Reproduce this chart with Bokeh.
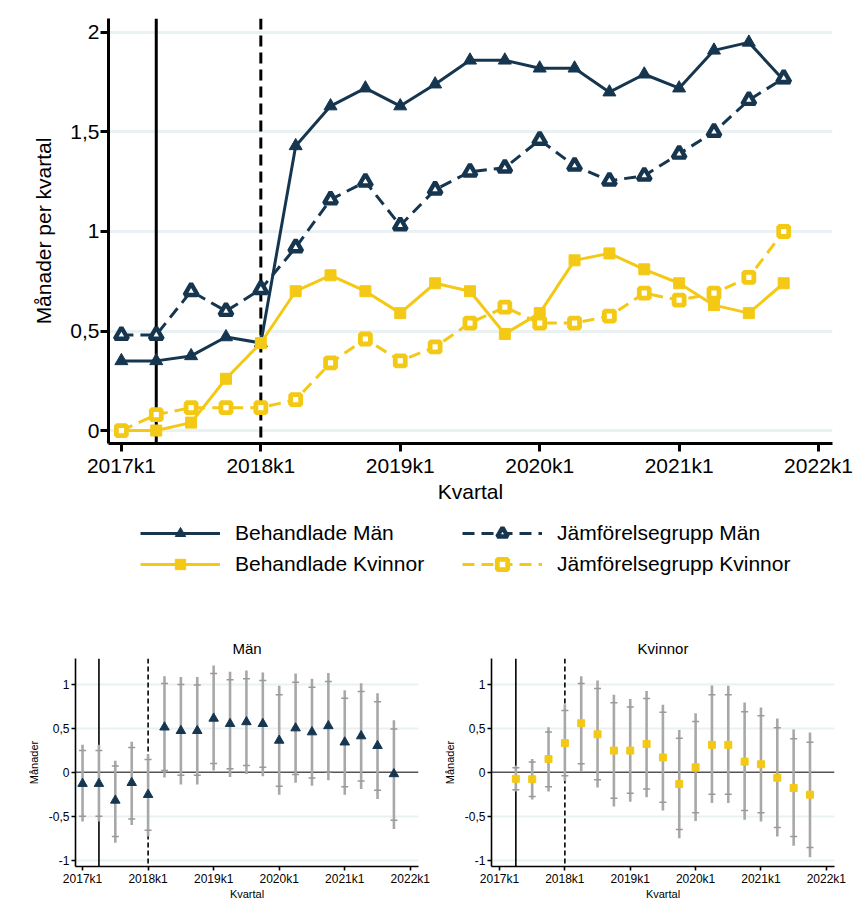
from bokeh.plotting import figure
from bokeh.models import FixedTicker, Legend, LegendItem, Span, Range1d
from bokeh.layouts import column, row
from bokeh.embed import file_html
from bokeh.resources import INLINE

# ---------------- data ----------------
quarters = list(range(20))  # 0 = 2017k1 ... 19 = 2021k4
tick_positions = [0, 4, 8, 12, 16, 20]
tick_labels = ["2017k1", "2018k1", "2019k1", "2020k1", "2021k1", "2022k1"]

main_y_ticks = [0, 0.5, 1, 1.5, 2]
main_y_labels = ["0", "0,5", "1", "1,5", "2"]

panel_y_ticks = [-1, -0.5, 0, 0.5, 1]
panel_y_labels = ["-1", "-0,5", "0", "0,5", "1"]

series_names = ["Behandlade Män", "Jämförelsegrupp Män",
                "Behandlade Kvinnor", "Jämförelsegrupp Kvinnor"]

behandlade_man = [0.35, 0.35, 0.375, 0.47, 0.44, 1.43, 1.63, 1.72, 1.63, 1.74,
                  1.86, 1.86, 1.82, 1.82, 1.70, 1.79, 1.72, 1.91, 1.95, 1.76]
jamfor_man = [0.48, 0.48, 0.70, 0.60, 0.71, 0.92, 1.16, 1.25, 1.03, 1.21,
              1.30, 1.32, 1.46, 1.33, 1.255, 1.28, 1.39, 1.50, 1.66, 1.77]
behandlade_kvinnor = [0.0, 0.0, 0.04, 0.26, 0.44, 0.70, 0.78, 0.70, 0.59, 0.74,
                      0.70, 0.485, 0.59, 0.855, 0.89, 0.81, 0.74, 0.63, 0.59, 0.74]
jamfor_kvinnor = [0.0, 0.08, 0.115, 0.115, 0.115, 0.155, 0.34, 0.46, 0.35, 0.42,
                  0.54, 0.62, 0.54, 0.54, 0.575, 0.69, 0.655, 0.69, 0.77, 1.00]

# event-study estimates, men (2017k1 .. 2021k4)
men_est = [-0.13, -0.13, -0.32, -0.12, -0.255, 0.51, 0.47, 0.47, 0.61, 0.55,
           0.57, 0.55, 0.36, 0.50, 0.455, 0.525, 0.34, 0.41, 0.30, -0.02]
men_hi_tick = [0.245, 0.245, 0.07, 0.28, 0.145, 1.005, 0.995, 0.99, 1.12, 1.05,
               1.06, 1.04, 0.88, 1.02, 0.965, 1.03, 0.84, 0.915, 0.80, 0.49]
men_lo_tick = [-0.50, -0.50, -0.73, -0.53, -0.66, 0.02, -0.035, -0.035, 0.10, 0.04,
               0.075, 0.055, -0.16, -0.025, -0.065, 0.005, -0.165, -0.10, -0.205, -0.545]
men_hi_line = [0.31, 0.31, 0.13, 0.345, 0.20, 1.09, 1.08, 1.08, 1.21, 1.14,
               1.155, 1.13, 0.98, 1.12, 1.06, 1.125, 0.93, 1.01, 0.895, 0.59]
men_lo_line = [-0.56, -0.56, -0.80, -0.60, -0.73, -0.06, -0.14, -0.14, 0.02, -0.055,
               -0.02, -0.045, -0.255, -0.12, -0.155, -0.09, -0.255, -0.19, -0.305, -0.645]

# event-study estimates, women (2017k2 .. 2021k4)
women_quarters = quarters[1:]
women_est = [-0.075, -0.08, 0.15, 0.33, 0.555, 0.43, 0.245, 0.245, 0.32, 0.167,
             -0.135, 0.055, 0.31, 0.31, 0.12, 0.09, -0.063, -0.18, -0.255]
women_hi_tick = [0.05, 0.115, 0.455, 0.70, 1.005, 0.95, 0.787, 0.74, 0.835, 0.68,
                 0.385, 0.575, 0.88, 0.88, 0.685, 0.64, 0.505, 0.38, 0.34]
women_lo_tick = [-0.20, -0.275, -0.165, -0.04, 0.097, -0.085, -0.295, -0.24, -0.19, -0.34,
                 -0.65, -0.46, -0.25, -0.25, -0.435, -0.46, -0.627, -0.73, -0.855]
women_hi_line = [0.075, 0.15, 0.51, 0.77, 1.09, 1.04, 0.88, 0.83, 0.92, 0.765,
                 0.48, 0.67, 0.985, 0.98, 0.79, 0.735, 0.61, 0.485, 0.45]
women_lo_line = [-0.22, -0.31, -0.22, -0.10, 0.01, -0.175, -0.39, -0.335, -0.285, -0.435,
                 -0.75, -0.555, -0.35, -0.35, -0.54, -0.56, -0.73, -0.835, -0.965]

reform_quarter = 1      # solid line 2017k2
start_quarter = 4       # dashed line 2018k1

# ---------------- style ----------------
NAVY = "#163650"
YELLOW = "#f3c916"
GRAY = "#a8a8a8"
GRAY_TICK = "#9a9a9a"
GRID = "#e9f1f3"
FONT = "Liberation Sans"

STYLES = [
    dict(line=dict(line_color=NAVY, line_width=3),
         mark=dict(marker="triangle", size=13, fill_color=NAVY, line_color=NAVY)),
    dict(line=dict(line_color=NAVY, line_width=3, line_dash="12 7"),
         mark=dict(marker="triangle", size=13, fill_color="white", line_color=NAVY, line_width=4.4)),
    dict(line=dict(line_color=YELLOW, line_width=3),
         mark=dict(marker="square", size=11, fill_color=YELLOW, line_color=YELLOW)),
    dict(line=dict(line_color=YELLOW, line_width=3, line_dash="12 7"),
         mark=dict(marker="square", size=10, fill_color="white", line_color=YELLOW, line_width=4.8)),
]
SERIES = [behandlade_man, jamfor_man, behandlade_kvinnor, jamfor_kvinnor]

# ---------------- main chart ----------------
p = figure(width=854, height=505, x_range=Range1d(-0.37, 20.4), y_range=Range1d(-0.065, 2.07),
           output_backend="svg", toolbar_location=None,
           min_border_left=108, min_border_right=22, min_border_top=18, min_border_bottom=62)
p.outline_line_color = None
p.xgrid.visible = False
p.ygrid.ticker = FixedTicker(ticks=main_y_ticks)
p.ygrid.grid_line_color = GRID
p.ygrid.grid_line_width = 3

for ax in (p.xaxis, p.yaxis):
    ax.axis_line_width = 3
    ax.axis_line_color = "black"
    ax.major_tick_line_width = 3
    ax.major_tick_out = 8
    ax.major_tick_in = 0
    ax.minor_tick_out = 0
    ax.minor_tick_in = 0
    ax.major_label_text_font = FONT
    ax.major_label_text_font_size = "21px"
    ax.major_label_text_color = "black"
    ax.axis_label_text_font = FONT
    ax.axis_label_text_font_size = "21px"
    ax.axis_label_text_font_style = "normal"
    ax.axis_label_text_color = "black"

p.xaxis.ticker = FixedTicker(ticks=tick_positions)
p.xaxis.major_label_overrides = dict(zip(tick_positions, tick_labels))
p.xaxis.axis_label = "Kvartal"
p.xaxis.major_label_standoff = 2
p.xaxis.axis_label_standoff = 0
p.yaxis.ticker = FixedTicker(ticks=main_y_ticks)
p.yaxis.major_label_overrides = dict(zip(main_y_ticks, main_y_labels))
p.yaxis.axis_label = "Månader per kvartal"
p.yaxis.major_label_standoff = 1
p.yaxis.axis_label_standoff = 12

p.add_layout(Span(location=reform_quarter, dimension="height", line_color="black",
                  line_width=3, level="underlay"))
p.add_layout(Span(location=start_quarter, dimension="height", line_color="black",
                  line_width=3, line_dash="11 6", level="underlay"))

for ys, st in zip(SERIES, STYLES):
    p.line(quarters, ys, **st["line"])
    p.scatter(quarters, ys, **st["mark"])

# ---------------- legend strip (its own figure, series kept out of view) ----------------
lg = figure(width=854, height=127, x_range=Range1d(-200, -199), y_range=Range1d(0, 1),
            output_backend="svg", toolbar_location=None,
            x_axis_location=None, y_axis_location=None,
            min_border_left=108, min_border_right=22, min_border_top=0, min_border_bottom=0)
lg.outline_line_color = None
lg.grid.visible = False
items = []
for name, ys, st in zip(series_names, SERIES, STYLES):
    rl = lg.line(quarters, ys, **st["line"])
    rm = lg.scatter(quarters, ys, **st["mark"])
    items.append(LegendItem(label=name, renderers=[rl, rm]))

common = dict(orientation="vertical", glyph_width=80, glyph_height=26, label_height=26,
              label_standoff=15, spacing=5, padding=0, margin=0,
              label_text_font=FONT, label_text_font_size="21px", label_text_color="black",
              border_line_color=None, background_fill_alpha=0)
lg.add_layout(Legend(items=[items[0], items[2]], location=(32, 55), **common))
lg.add_layout(Legend(items=[items[1], items[3]], location=(354, 55), **common))


# ---------------- panels ----------------
def make_panel(title, x_start, xs, est, lo_line, hi_line, lo_tick, hi_tick,
               marker, size, color, width, border_left, border_right):
    f = figure(width=width, height=270, x_range=Range1d(x_start, 20.5),
               y_range=Range1d(-1.07, 1.29), output_backend="svg", toolbar_location=None,
               min_border_left=border_left, min_border_right=border_right,
               min_border_top=26, min_border_bottom=32)
    f.outline_line_color = None
    f.title.text = title
    f.title.align = "center"
    f.title.text_font = FONT
    f.title.text_font_size = "15px"
    f.title.text_font_style = "normal"
    f.title.text_color = "black"
    f.title.standoff = 3
    f.xgrid.visible = False
    f.ygrid.ticker = FixedTicker(ticks=[-1, -0.5, 0.5, 1])
    f.ygrid.grid_line_color = GRID
    f.ygrid.grid_line_width = 2
    for ax in (f.xaxis, f.yaxis):
        ax.axis_line_width = 1.6
        ax.axis_line_color = "black"
        ax.major_tick_line_width = 1.6
        ax.major_tick_out = 4
        ax.major_tick_in = 0
        ax.minor_tick_out = 0
        ax.minor_tick_in = 0
        ax.major_label_text_font = FONT
        ax.major_label_text_font_size = "12px"
        ax.major_label_text_color = "black"
        ax.axis_label_text_font = FONT
        ax.axis_label_text_font_size = "11px"
        ax.axis_label_text_font_style = "normal"
        ax.axis_label_text_color = "black"
    f.xaxis.ticker = FixedTicker(ticks=tick_positions)
    f.xaxis.major_label_overrides = dict(zip(tick_positions, tick_labels))
    f.xaxis.axis_label = "Kvartal"
    f.xaxis.major_label_standoff = 1
    f.xaxis.axis_label_standoff = -1
    f.yaxis.ticker = FixedTicker(ticks=panel_y_ticks)
    f.yaxis.major_label_overrides = dict(zip(panel_y_ticks, panel_y_labels))
    f.yaxis.axis_label = "Månader"
    f.yaxis.major_label_standoff = 2
    f.yaxis.axis_label_standoff = 6

    f.add_layout(Span(location=0, dimension="width", line_color="#555555",
                      line_width=1.6, level="underlay"))
    f.add_layout(Span(location=reform_quarter, dimension="height", line_color="black",
                      line_width=1.6, level="underlay"))
    f.add_layout(Span(location=start_quarter, dimension="height", line_color="black",
                      line_width=1.6, line_dash="5 3", level="underlay"))

    f.segment(xs, lo_line, xs, hi_line, line_color=GRAY, line_width=2.6)
    f.scatter(xs, lo_tick, marker="dash", size=7, line_color=GRAY_TICK, line_width=1.5)
    f.scatter(xs, hi_tick, marker="dash", size=7, line_color=GRAY_TICK, line_width=1.5)
    f.scatter(xs, est, marker=marker, size=size, color=color)
    return f


men = make_panel("Män", -0.43, quarters, men_est, men_lo_line, men_hi_line,
                 men_lo_tick, men_hi_tick, "triangle", 9.5, NAVY, 430, 75, 12)
women = make_panel("Kvinnor", -0.49, women_quarters, women_est, women_lo_line, women_hi_line,
                   women_lo_tick, women_hi_tick, "square", 7, YELLOW, 424, 61, 20)

layout = column(p, lg, row(men, women))
open("out.html", "w").write(file_html(layout, INLINE))
